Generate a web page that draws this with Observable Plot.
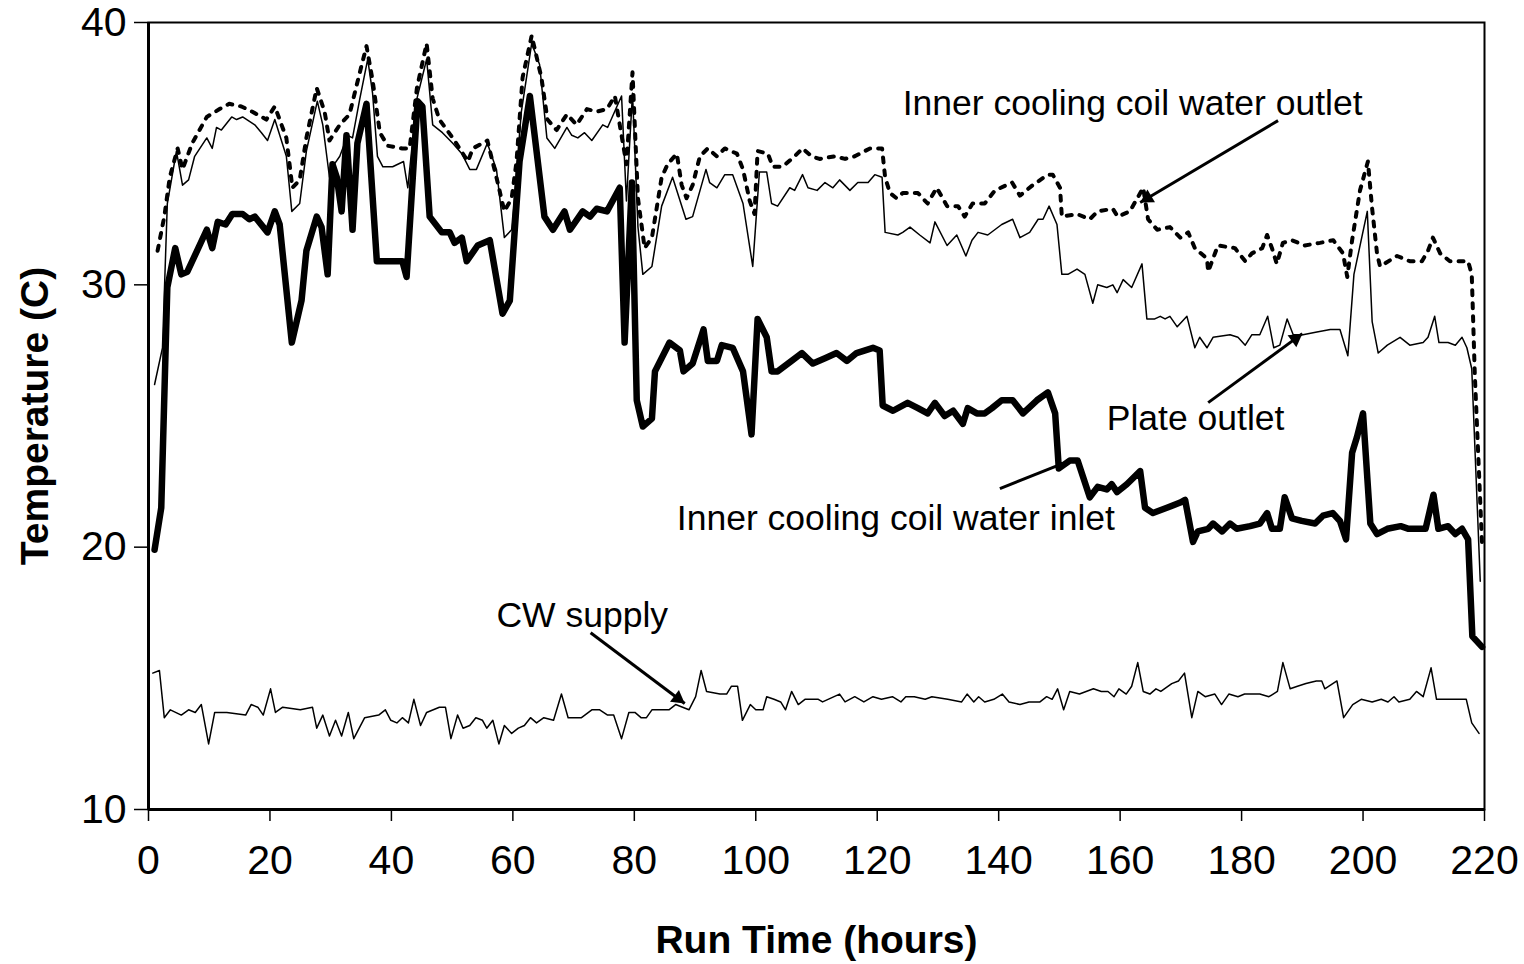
<!DOCTYPE html>
<html>
<head>
<meta charset="utf-8">
<script src="https://cdn.jsdelivr.net/npm/d3@7"></script>
<script src="https://cdn.jsdelivr.net/npm/@observablehq/plot@0.6"></script>
<style>
  html, body { margin: 0; padding: 0; background: #fff; }
  #chart { width: 1524px; height: 964px; }
</style>
</head>
<body>
<div id="chart"></div>
<script>
// ---------- Data ----------
const xTicks = [0, 20, 40, 60, 80, 100, 120, 140, 160, 180, 200, 220];
const yTicks = [10, 20, 30, 40];
const xLabel = "Run Time (hours)";
const yLabel = "Temperature (C)";

// Inner cooling coil water inlet (thick line)
const inletTime = [1.0,2.1,3.1,4.4,5.4,6.4,9.6,10.5,11.4,12.7,13.8,15.5,16.6,17.5,19.6,20.8,21.6,23.6,25.2,26.0,27.7,28.5,29.5,30.3,31.0,31.8,32.6,33.6,34.4,35.9,37.6,41.8,42.5,44.3,45.1,46.3,48.3,49.6,50.4,51.6,52.4,54.2,56.2,58.3,59.5,61.1,62.8,65.2,66.6,68.5,69.4,71.5,72.7,73.8,75.5,77.6,78.4,79.6,80.4,81.4,82.9,83.4,85.8,87.5,88.1,89.6,91.4,92.1,93.6,94.4,96.2,97.9,99.3,100.3,101.8,102.6,103.6,105.9,107.6,109.4,111.4,113.3,115.0,116.6,119.3,120.4,120.9,122.6,125.0,126.7,128.3,129.5,131.1,132.5,134.1,134.9,136.4,137.7,138.9,140.5,142.3,144.0,146.3,148.1,149.3,149.9,151.7,153.0,155.0,156.3,157.8,158.6,159.5,161.1,163.3,164.1,165.4,167.7,169.9,170.7,172.0,172.8,174.5,175.3,176.8,178.1,179.2,181.4,183.0,184.2,185.0,186.3,187.1,188.3,189.9,192.1,193.4,195.0,196.2,197.2,198.2,199.0,200.0,201.2,202.3,204.0,206.2,207.5,210.3,211.6,212.4,214.0,215.2,216.3,217.3,218.0,219.6];
const inletTemp = [19.9,21.5,29.9,31.4,30.4,30.5,32.1,31.4,32.4,32.3,32.7,32.7,32.5,32.6,32.0,32.8,32.3,27.8,29.4,31.3,32.6,32.2,30.4,34.6,34.1,32.8,35.7,32.1,35.4,36.9,30.9,30.9,30.3,37.0,36.8,32.6,32.0,32.0,31.6,31.8,30.9,31.5,31.7,28.9,29.4,34.7,37.2,32.6,32.1,32.8,32.1,32.8,32.6,32.9,32.8,33.7,27.8,33.9,25.6,24.6,24.9,26.7,27.8,27.5,26.7,27.0,28.3,27.1,27.1,27.7,27.6,26.7,24.3,28.7,28.0,26.7,26.7,27.1,27.4,27.0,27.2,27.4,27.1,27.4,27.6,27.5,25.4,25.2,25.5,25.3,25.1,25.5,25.0,25.2,24.7,25.3,25.1,25.1,25.3,25.6,25.6,25.1,25.6,25.9,25.1,23.0,23.3,23.3,21.9,22.3,22.2,22.4,22.1,22.4,22.9,21.5,21.3,21.5,21.7,21.8,20.2,20.6,20.7,20.9,20.6,20.9,20.7,20.8,20.9,21.3,20.7,20.7,21.9,21.1,21.0,20.9,21.2,21.3,21.0,20.3,23.6,24.2,25.1,20.9,20.5,20.7,20.8,20.7,20.7,22.0,20.7,20.8,20.5,20.7,20.3,16.6,16.2];

// Plate outlet (thin line)
const plateTime = [1.0,2.3,3.1,4.6,5.6,6.6,7.6,9.6,10.5,11.2,12.0,13.7,14.5,15.5,17.5,18.6,19.6,20.8,22.7,23.6,24.9,26.0,27.8,28.7,29.8,30.6,31.5,32.8,33.6,34.8,36.1,36.9,37.7,38.6,40.2,42.0,42.7,44.2,45.8,46.8,48.4,50.1,51.6,52.9,54.0,55.8,57.3,58.6,59.8,61.4,63.1,64.4,65.6,66.9,68.9,69.7,70.7,71.8,73.0,74.8,75.6,77.9,78.7,79.7,80.6,81.4,82.9,84.5,86.3,88.5,89.6,91.8,92.4,93.6,94.9,96.2,97.9,99.5,100.6,101.8,102.6,103.6,105.6,106.4,107.7,108.6,110.1,111.4,112.7,113.8,115.5,116.8,118.5,119.6,120.8,121.3,123.4,124.2,125.4,127.0,128.7,129.5,131.5,133.1,134.6,135.6,136.6,138.2,140.5,142.3,143.5,145.1,146.5,147.3,148.3,149.6,150.4,151.4,152.9,154.2,155.5,156.3,157.8,158.8,159.5,160.5,161.9,163.6,164.4,165.7,166.6,167.4,168.2,169.4,171.0,172.3,173.1,174.3,175.3,178.1,179.4,180.6,181.7,183.0,184.3,185.3,186.3,187.5,188.5,190.1,192.4,194.6,196.2,197.5,198.5,200.7,201.5,202.5,204.0,206.1,207.7,209.9,210.7,211.8,212.5,214.0,215.2,216.3,217.1,217.9,219.3];
const plateTemp = [26.2,27.6,33.1,35.1,33.8,34.0,34.9,35.6,35.2,36.0,35.9,36.4,36.3,36.4,36.1,35.8,35.5,36.3,34.9,32.8,33.1,35.1,37.0,36.1,34.1,34.6,34.9,35.7,35.6,37.1,38.6,37.3,34.9,34.5,34.5,34.7,33.7,37.1,38.6,36.1,35.8,35.4,35.0,34.4,34.4,35.4,34.4,31.8,32.1,36.6,39.2,38.4,35.6,35.2,36.0,35.7,35.6,35.8,35.5,36.1,36.0,37.2,33.2,37.3,32.2,30.4,30.7,33.0,34.1,32.5,32.6,34.4,33.9,33.7,34.2,34.2,33.1,30.7,34.3,34.3,33.1,33.0,33.7,33.6,34.2,33.7,33.6,33.9,33.7,34.0,33.6,33.9,33.9,34.2,34.1,32.0,31.9,32.0,32.2,31.9,31.6,32.4,31.5,31.9,31.1,31.7,32.0,31.9,32.3,32.5,31.8,32.0,32.5,32.5,33.0,32.3,30.4,30.4,30.6,30.4,29.3,30.0,29.9,30.0,29.7,30.2,29.9,30.8,28.7,28.7,28.8,28.7,28.8,28.4,28.8,27.6,28.0,27.6,28.0,28.1,28.0,27.7,28.1,28.1,28.8,27.6,27.7,28.7,28.1,28.1,28.2,28.3,28.3,27.3,30.4,32.8,28.6,27.4,27.7,28.0,27.7,27.8,28.0,28.8,27.8,27.8,27.7,28.0,27.6,26.8,18.7];

// Inner cooling coil water outlet (dotted line)
const outletTime = [1.5,2.6,3.5,4.8,5.6,7.2,9.6,11.7,13.3,15.3,17.1,19.4,20.8,22.7,23.7,24.9,26.0,27.7,29.0,29.8,31.5,33.1,34.8,35.9,36.9,38.1,39.4,41.8,43.0,44.2,45.8,46.8,47.9,50.4,52.6,53.4,55.8,57.5,58.6,59.8,60.6,61.6,63.1,64.7,65.7,67.2,68.9,70.5,72.2,73.8,75.5,76.8,78.7,79.7,80.6,81.7,82.9,84.5,85.5,87.0,87.8,88.6,89.6,90.8,92.1,93.6,94.9,96.9,97.9,99.0,99.8,100.3,102.0,102.8,104.4,106.4,107.7,109.2,110.5,113.0,114.7,116.3,118.8,120.8,121.3,122.1,123.2,124.2,126.7,128.3,129.8,131.5,133.3,134.4,135.7,137.7,139.4,142.2,143.5,145.6,148.1,148.9,150.1,150.4,152.9,155.0,156.3,158.8,159.6,161.6,163.8,164.6,166.1,168.2,169.9,171.2,172.3,174.3,174.5,176.1,178.9,180.6,181.7,183.4,184.2,185.0,185.8,186.8,188.3,190.4,192.9,195.1,196.7,197.4,198.2,199.5,200.8,201.5,202.3,202.8,205.6,207.7,209.7,210.7,211.5,212.7,214.3,216.3,217.3,217.9,218.1,218.4,219.6];
const outletTemp = [31.3,32.6,34.1,35.2,34.4,35.4,36.4,36.7,36.9,36.8,36.6,36.3,36.8,35.6,33.7,34.0,35.6,37.5,36.6,35.5,36.1,36.5,38.1,39.1,37.8,35.8,35.3,35.2,35.2,37.5,39.2,37.1,36.3,35.5,34.7,35.2,35.5,33.9,32.8,33.3,34.7,37.9,39.5,37.9,36.3,35.9,36.5,36.1,36.7,36.6,36.7,37.2,34.6,38.1,33.3,31.4,31.8,34.1,34.6,35.0,33.8,33.3,33.8,34.9,35.2,34.9,35.2,35.0,34.4,33.2,32.7,35.1,35.0,34.5,34.5,34.9,35.2,34.9,34.8,34.9,34.8,34.9,35.2,35.2,34.1,33.5,33.3,33.5,33.5,33.1,33.7,33.0,33.0,32.6,33.1,33.1,33.6,33.9,33.4,33.8,34.2,34.2,33.7,32.6,32.7,32.5,32.8,32.9,32.6,32.8,33.7,32.5,32.1,32.2,31.8,32.0,31.4,31.0,30.5,31.5,31.4,30.9,31.2,31.4,31.9,31.4,30.8,31.6,31.7,31.5,31.6,31.7,31.2,30.3,31.7,33.6,34.7,32.9,31.2,30.7,31.1,30.9,30.9,31.3,31.8,31.2,30.9,30.9,30.9,30.4,28.9,26.6,20.1];

// CW supply (thin line)
const cwTime = [0.7,1.8,2.6,3.6,5.4,6.6,7.7,8.7,9.9,10.9,12.9,16.0,16.9,18.0,18.9,20.1,20.9,22.1,25.0,27.0,27.7,28.7,29.8,30.8,31.8,32.9,33.8,35.6,37.9,39.0,39.9,40.9,41.8,42.8,43.7,44.8,45.8,47.9,48.9,49.8,50.9,51.8,52.9,53.9,55.0,55.7,56.7,57.7,58.6,59.8,60.9,61.9,62.9,63.9,65.1,66.7,68.0,69.1,71.3,73.0,74.3,75.6,76.6,77.9,79.1,80.1,81.1,82.0,82.9,85.7,86.8,89.0,90.1,91.0,91.9,94.1,95.2,96.0,97.0,97.8,99.1,100.0,101.2,101.8,103.0,104.1,104.9,105.9,107.0,108.1,110.3,111.0,113.8,114.7,116.3,117.8,119.3,120.7,122.5,123.9,124.7,126.1,127.9,129.0,131.6,133.9,134.8,135.9,136.7,137.7,139.2,140.6,141.7,143.5,145.0,146.8,147.9,148.8,149.7,150.7,151.7,153.3,154.4,155.6,156.9,158.0,159.0,159.8,161.0,161.9,162.9,163.8,164.9,165.9,166.7,168.5,169.6,170.6,171.8,172.8,174.0,175.6,176.7,177.9,179.4,180.5,182.0,183.0,184.5,185.9,186.8,188.0,189.2,190.6,192.3,193.2,193.7,195.7,196.8,198.3,199.7,201.5,203.0,204.1,205.1,205.9,207.7,208.8,209.9,211.2,212.1,213.6,214.6,215.7,217.0,217.9,219.1];
const cwTemp = [15.2,15.3,13.5,13.8,13.6,13.8,13.7,14.0,12.5,13.7,13.7,13.6,14.0,13.9,13.6,14.6,13.7,13.9,13.8,13.9,13.1,13.6,12.8,13.4,12.8,13.7,12.7,13.5,13.6,13.8,13.4,13.3,13.5,13.3,14.2,13.2,13.7,13.9,13.9,12.7,13.6,13.1,13.2,13.5,13.4,13.1,13.4,12.5,13.2,12.9,13.1,13.2,13.5,13.3,13.5,13.4,14.4,13.5,13.5,13.8,13.8,13.6,13.6,12.7,13.7,13.7,13.5,13.5,13.8,13.8,14.0,13.8,14.3,15.3,14.5,14.4,14.4,14.7,14.7,13.4,14.0,13.8,13.8,14.3,14.2,14.1,13.8,14.5,14.0,14.2,14.2,14.1,14.4,14.1,14.3,14.1,14.3,14.2,14.3,14.1,14.3,14.3,14.2,14.3,14.2,14.1,14.4,14.1,14.3,14.1,14.2,14.4,14.1,14.0,14.1,14.1,14.3,14.2,14.6,13.8,14.5,14.4,14.5,14.6,14.5,14.5,14.3,14.6,14.4,14.7,15.6,14.5,14.4,14.6,14.5,14.8,14.9,15.2,13.5,14.5,14.3,14.4,14.0,14.4,14.3,14.4,14.4,14.4,14.3,14.5,15.6,14.6,14.7,14.8,14.9,14.9,14.6,14.9,13.5,14.0,14.2,14.1,14.2,14.1,14.3,14.1,14.2,14.5,14.3,15.4,14.2,14.2,14.2,14.2,14.2,13.3,12.9];

// Annotations (data units: hours, °C)
const annoText = ["Inner cooling coil water outlet", "Plate outlet", "Inner cooling coil water inlet", "CW supply"];
const annoX = [124.2, 157.8, 87.0, 57.3];
const annoY = [36.9, 24.9, 21.1, 17.4];
// leader lines: start (x1,y1) -> end (x2,y2); arrow head flag
const leadX1 = [186.0, 174.5, 140.2, 72.8];
const leadY1 = [36.26, 25.51, 22.23, 16.74];
const leadX2 = [163.3, 190.0, 150.1, 88.3];
const leadY2 = [33.14, 28.14, 23.15, 14.04];
const leadHead = [true, true, false, true];

// ---------- Build tables ----------
const toRows = (ts, vs) => ts.map((t, i) => ({t, v: vs[i]}));
const inlet = toRows(inletTime, inletTemp);
const plate = toRows(plateTime, plateTemp);
const outlet = toRows(outletTime, outletTemp);
const cw = toRows(cwTime, cwTemp);
const annos = annoText.map((s, i) => ({s, x: annoX[i], y: annoY[i]}));
const leads = leadX1.map((x1, i) => ({x1, y1: leadY1[i], x2: leadX2[i], y2: leadY2[i], head: leadHead[i]}));

const HEAD_R = 5.5;

function build(heads) {
  return Plot.plot({
    width: 1524,
    height: 964,
    marginLeft: 148,
    marginRight: 40,
    marginTop: 22,
    marginBottom: 155,
    style: {fontFamily: "'Liberation Sans', Arial, sans-serif", background: "white", color: "black"},
    x: {domain: [0, 220]},
    y: {domain: [10, 40]},
    marks: [
      Plot.frame({stroke: "black", strokeWidth: 2}),
      Plot.ruleX([0], {stroke: "black", strokeWidth: 3}),
      Plot.ruleY([10], {stroke: "black", strokeWidth: 3}),
      Plot.axisX(xTicks, {tickSize: 12, tickPadding: 23, fontSize: 41, label: null, strokeWidth: 1.5}),
      Plot.axisY(yTicks, {tickSize: 14, tickPadding: 8, fontSize: 41, label: null, strokeWidth: 1.5}),
      Plot.line(cw, {x: "t", y: "v", stroke: "black", strokeWidth: 1.5}),
      Plot.line(plate, {x: "t", y: "v", stroke: "black", strokeWidth: 1.5}),
      Plot.line(outlet, {x: "t", y: "v", stroke: "black", strokeWidth: 4, strokeDasharray: "5,8"}),
      Plot.line(inlet, {x: "t", y: "v", stroke: "black", strokeWidth: 6.5, strokeLinejoin: "round"}),
      Plot.link(leads, {x1: "x1", y1: "y1", x2: "x2", y2: "y2", stroke: "black", strokeWidth: 3}),
      Plot.dot(heads, {x: "x", y: "y", rotate: "a", symbol: "triangle", r: HEAD_R, fill: "black", stroke: "none"}),
      Plot.text(annos, {x: "x", y: "y", text: "s", textAnchor: "start", fontSize: 35.5, fill: "black"}),
      Plot.text([xLabel], {frameAnchor: "bottom", dy: 131, lineAnchor: "middle", fontSize: 39, fontWeight: "bold", fill: "black"}),
      Plot.text([yLabel], {frameAnchor: "left", dx: -113, rotate: -90, textAnchor: "middle", lineAnchor: "middle", fontSize: 39, fontWeight: "bold", fill: "black"})
    ]
  });
}

// First pass: obtain scales to orient filled arrow heads along the leader lines
const first = build([]);
const sx = first.scale("x"), sy = first.scale("y");
const tipDist = 2 * Math.sqrt((Math.PI * HEAD_R * HEAD_R) / (3 * Math.sqrt(3)));
const heads = leads.filter(d => d.head).map(d => {
  const px1 = sx.apply(d.x1), py1 = sy.apply(d.y1);
  const px2 = sx.apply(d.x2), py2 = sy.apply(d.y2);
  const len = Math.hypot(px2 - px1, py2 - py1);
  const ux = (px2 - px1) / len, uy = (py2 - py1) / len;
  const a = Math.atan2(px2 - px1, -(py2 - py1)) * 180 / Math.PI;
  return {x: sx.invert(px2 - ux * tipDist), y: sy.invert(py2 - uy * tipDist), a};
});

const chart = build(heads);
document.getElementById("chart").appendChild(chart);
</script>
</body>
</html>
